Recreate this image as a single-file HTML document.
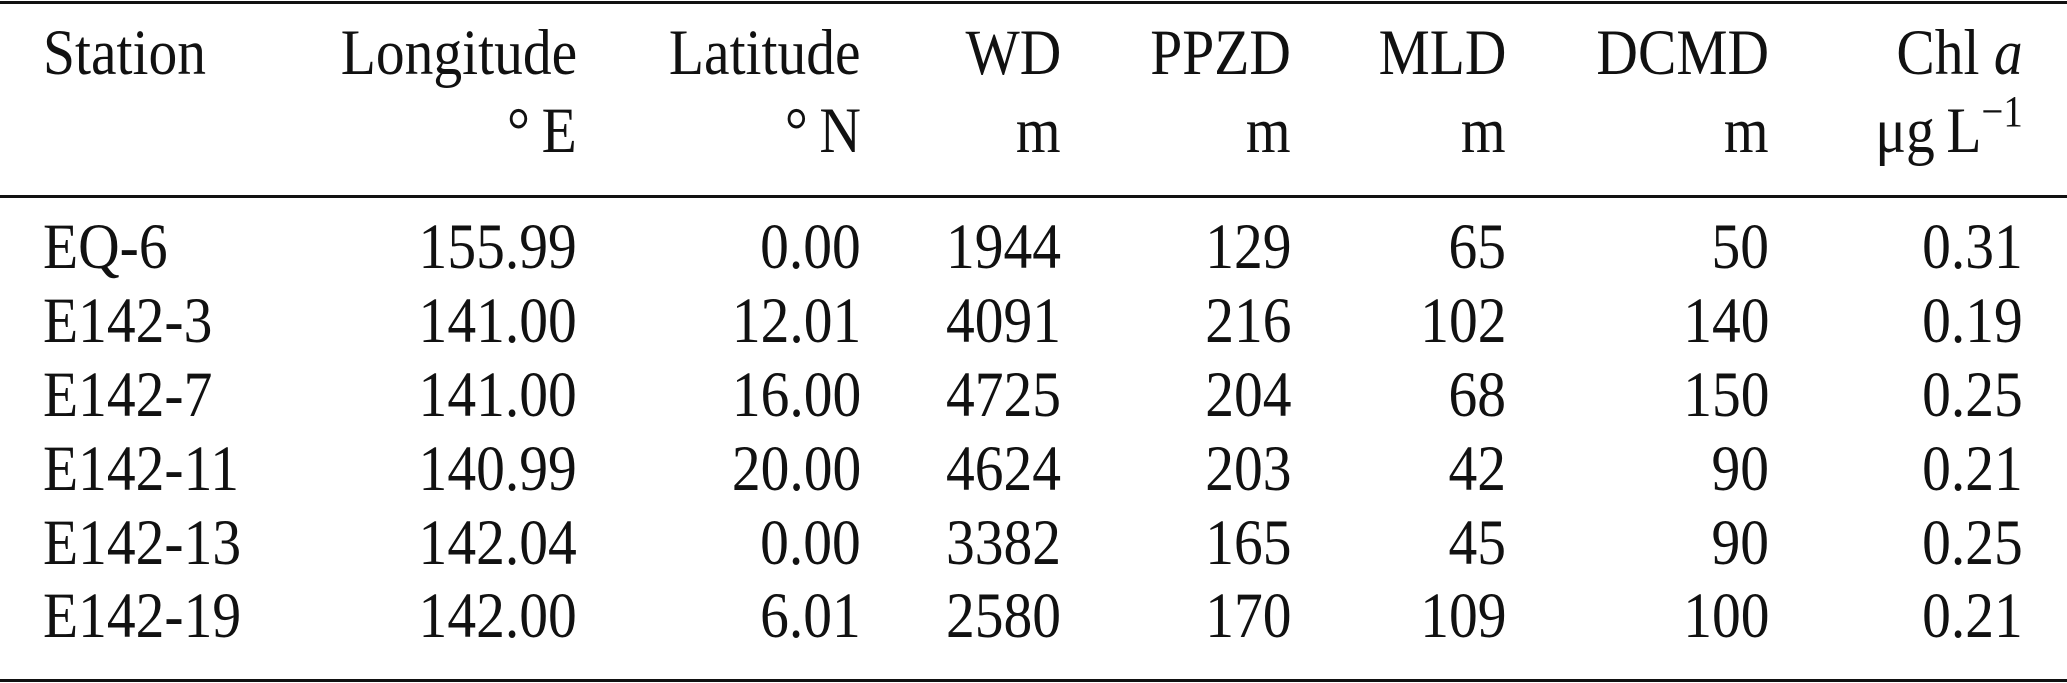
<!DOCTYPE html>
<html><head><meta charset="utf-8"><style>
html,body{margin:0;padding:0;background:#fff}
#c{position:relative;width:2067px;height:683px;overflow:hidden;font-family:"Liberation Serif",serif;font-size:65px;color:#111}
.t{position:absolute;line-height:1;white-space:nowrap}
.r{position:absolute;left:0;width:2067px;height:3px;background:#111}
sup{font-size:44px;vertical-align:0;position:relative;top:-26px}
</style></head><body><div id="c">
<div class="r" style="top:1px"></div>
<div class="r" style="top:195px"></div>
<div class="r" style="top:679px"></div>
<div id="rows"></div>
</div>
<script>
var cols=[{l:43},{r:577},{r:861},{r:1061},{r:1291},{r:1506},{r:1769},{r:2023}];
var head=["Station","Longitude","Latitude","WD","PPZD","MLD","DCMD","Chl <i>a</i>"];
var unit=["","°\u2009E","°\u2009N","m","m","m","m","μg\u2009L<sup>−1</sup>"];
var data=[["EQ-6","155.99","0.00","1944","129","65","50","0.31"],
["E142-3","141.00","12.01","4091","216","102","140","0.19"],
["E142-7","141.00","16.00","4725","204","68","150","0.25"],
["E142-11","140.99","20.00","4624","203","42","90","0.21"],
["E142-13","142.04","0.00","3382","165","45","90","0.25"],
["E142-19","142.00","6.01","2580","170","109","100","0.21"]];
var h="";
function put(txt,i,base){var c=cols[i];var top=base-54;
 var pos=c.l!==undefined?"left:"+c.l+"px;transform-origin:left center":"right:"+(2067-c.r)+"px;transform-origin:right center";
 h+='<div class="t" style="top:'+top+'px;transform:scaleX(0.885);'+pos+'">'+txt+'</div>';}
head.forEach(function(t,i){put(t,i,75)});
unit.forEach(function(t,i){if(t)put(t,i,153)});
var bases=[269,343,417,491,565,638];
data.forEach(function(r,j){r.forEach(function(t,i){put(t,i,bases[j])})});
document.getElementById("rows").innerHTML=h;
</script></body></html>
